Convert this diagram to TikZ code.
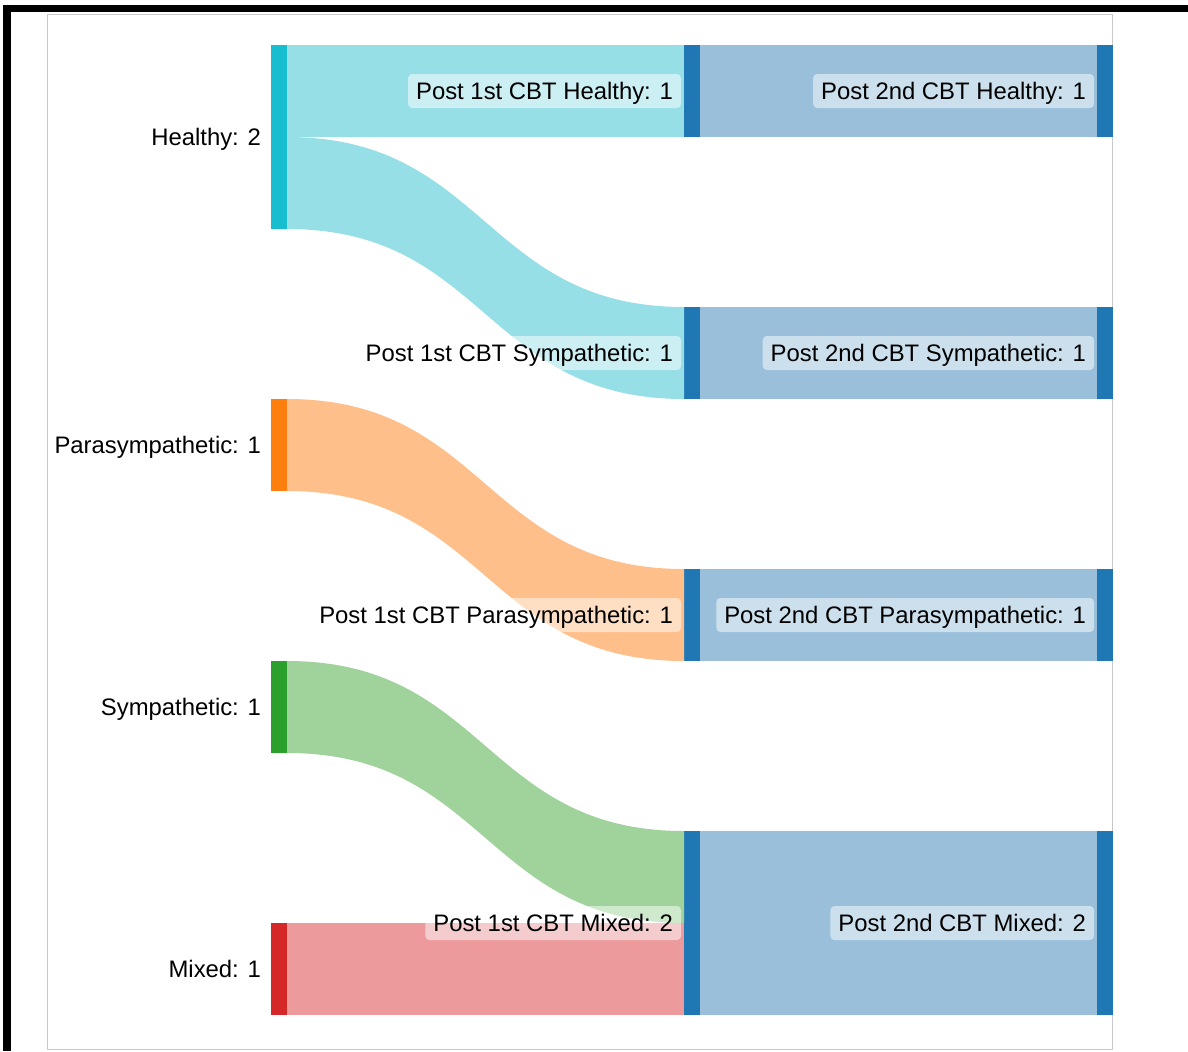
\documentclass[tikz,border=0pt]{standalone}
\usepackage{fontspec}
\setmainfont{Liberation Sans}
\usetikzlibrary{positioning}

\definecolor{healthycol}{HTML}{17BECF}
\definecolor{paracol}{HTML}{FF7F0E}
\definecolor{sympcol}{HTML}{2CA02C}
\definecolor{mixedcol}{HTML}{D62728}
\definecolor{postcol}{HTML}{1F77B4}
\definecolor{healthylink}{HTML}{97DFE7}
\definecolor{paralink}{HTML}{FFBF8A}
\definecolor{symplink}{HTML}{A0D39C}
\definecolor{mixedlink}{HTML}{EC9A9B}
\definecolor{postlink}{HTML}{99BFDA}
\definecolor{framegray}{HTML}{C8C8C8}

\begin{document}
\begin{tikzpicture}[line cap=round,line join=round,x=0.75pt,y=-0.75pt,
  bar/.style={draw=none,inner sep=0pt,outer sep=0pt,minimum width=12pt,minimum height=69pt},
  dbar/.style={bar,minimum height=138pt},
  lbl/.style={font=\fontsize{17.9}{20}\selectfont,inner xsep=6pt,inner ysep=4pt,outer sep=0pt,
    text height=15.15pt,text depth=2.35pt},
  boxlbl/.style={lbl,fill=white,fill opacity=0.5,text opacity=1,rounded corners=3pt}]
\useasboundingbox (0,0) rectangle (1188,1051);

%frame
\fill[black] (3,5) rectangle (1188,12);
\fill[black] (3,5) rectangle (11,1051);
\draw[framegray,line width=0.75pt] (47.5,14.5) rectangle (1112.5,1049.5);

%bars
\node[dbar,fill=healthycol] (sH) at (279,137) {};
\node[bar,fill=paracol] (sP) at (279,445) {};
\node[bar,fill=sympcol] (sS) at (279,707) {};
\node[bar,fill=mixedcol] (sM) at (279,969) {};

\node[bar,fill=postcol] (mH) at (692,91) {};
\node[bar,fill=postcol] (mS) at (692,353) {};
\node[bar,fill=postcol] (mP) at (692,615) {};
\node[dbar,fill=postcol] (mM) at (692,923) {};

\node[bar,fill=postcol] (rH) at (1105,91) {};
\node[bar,fill=postcol] (rS) at (1105,353) {};
\node[bar,fill=postcol] (rP) at (1105,615) {};
\node[dbar,fill=postcol] (rM) at (1105,923) {};

%flows, first to second column
\fill[healthylink] (sH.north east) rectangle (mH.south west);
\fill[healthylink] (sH.east) .. controls +(149pt,0) and +(-149pt,0) .. (mS.north west)
  -- (mS.south west) .. controls +(-149pt,0) and +(149pt,0) .. (sH.south east) -- cycle;
\fill[paralink] (sP.north east) .. controls +(149pt,0) and +(-149pt,0) .. (mP.north west)
  -- (mP.south west) .. controls +(-149pt,0) and +(149pt,0) .. (sP.south east) -- cycle;
\fill[symplink] (sS.north east) .. controls +(149pt,0) and +(-149pt,0) .. (mM.north west)
  -- (mM.west) .. controls +(-149pt,0) and +(149pt,0) .. (sS.south east) -- cycle;
\fill[mixedlink] (sM.north east) rectangle (mM.south west);

%second to third column
\fill[postlink] (mH.north east) rectangle (rH.south west);
\fill[postlink] (mS.north east) rectangle (rS.south west);
\fill[postlink] (mP.north east) rectangle (rP.south west);
\fill[postlink] (mM.north east) rectangle (rM.south west);

%labels
\node[lbl,left=1.5pt of sH] (lsH) {Healthy: 2};
\node[lbl,left=1.5pt of sP] (lsP) {Parasympathetic: 1};
\node[lbl,left=1.5pt of sS] (lsS) {Sympathetic: 1};
\node[lbl,left=1.5pt of sM] (lsM) {Mixed: 1};

\node[boxlbl,left=2.25pt of mH] (lmH) {Post 1st CBT Healthy: 1};
\node[boxlbl,left=2.25pt of mS] (lmS) {Post 1st CBT Sympathetic: 1};
\node[boxlbl,left=2.25pt of mP] (lmP) {Post 1st CBT Parasympathetic: 1};
\node[boxlbl,left=2.25pt of mM] (lmM) {Post 1st CBT Mixed: 2};

\node[boxlbl,left=2.25pt of rH] (lrH) {Post 2nd CBT Healthy: 1};
\node[boxlbl,left=2.25pt of rS] (lrS) {Post 2nd CBT Sympathetic: 1};
\node[boxlbl,left=2.25pt of rP] (lrP) {Post 2nd CBT Parasympathetic: 1};
\node[boxlbl,left=2.25pt of rM] (lrM) {Post 2nd CBT Mixed: 2};
\end{tikzpicture}
\end{document}
